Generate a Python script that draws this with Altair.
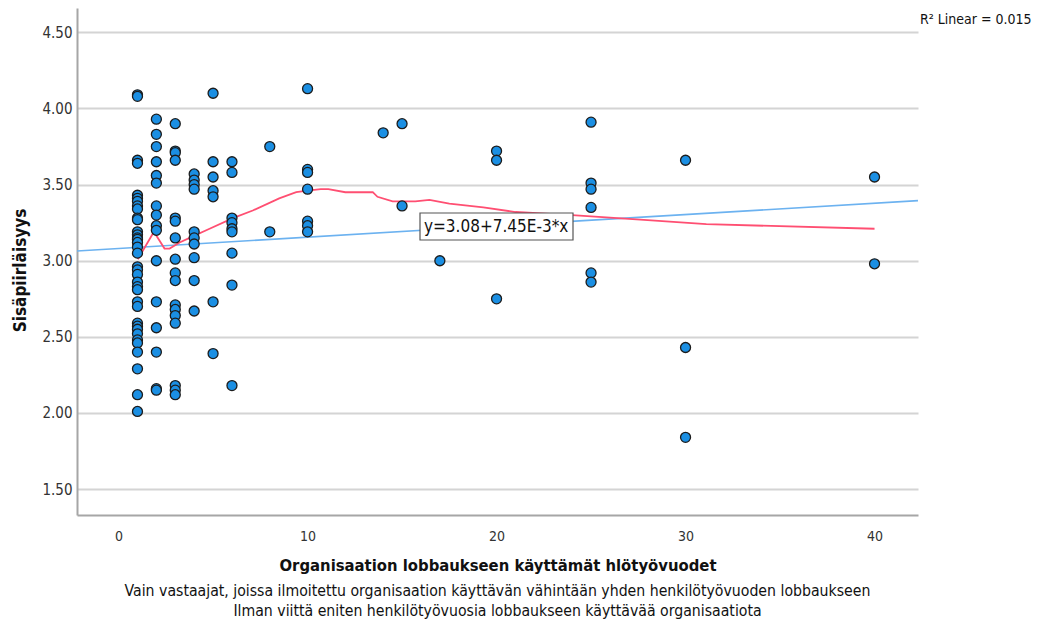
import altair as alt
import pandas as pd

# ---- data ----
years = [1, 2, 3, 4, 5, 6, 8, 10, 14, 15, 17, 20, 25, 30, 40]
scores = [
    [4.09, 4.08, 3.66, 3.64, 3.43, 3.41, 3.39, 3.36, 3.34, 3.28, 3.27, 3.19, 3.17, 3.15,
     3.14, 3.12, 3.09, 3.05, 2.96, 2.94, 2.91, 2.86, 2.83, 2.81, 2.73, 2.70, 2.59, 2.57,
     2.55, 2.52, 2.48, 2.46, 2.40, 2.29, 2.12, 2.01],
    [3.93, 3.83, 3.75, 3.65, 3.56, 3.51, 3.36, 3.30, 3.23, 3.20, 3.00, 2.73, 2.56, 2.40, 2.16, 2.15],
    [3.90, 3.72, 3.71, 3.66, 3.28, 3.26, 3.15, 3.01, 2.92, 2.87, 2.71, 2.68, 2.64, 2.59, 2.18, 2.15, 2.12],
    [3.57, 3.53, 3.50, 3.47, 3.19, 3.15, 3.11, 3.02, 2.87, 2.67],
    [4.10, 3.65, 3.55, 3.46, 3.42, 2.73, 2.39],
    [3.65, 3.58, 3.28, 3.25, 3.21, 3.19, 3.05, 2.84, 2.18],
    [3.75, 3.19],
    [4.13, 3.60, 3.58, 3.47, 3.26, 3.23, 3.19],
    [3.84],
    [3.90, 3.36],
    [3.00],
    [3.72, 3.66, 2.75],
    [3.91, 3.51, 3.47, 3.35, 2.92, 2.86],
    [3.66, 2.43, 1.84],
    [3.55, 2.98],
]

loess_x = [1.02, 1.87, 2.43, 2.7, 3.23, 3.93, 4.64, 6.05, 7.1, 8.5, 9.4, 10.0, 10.7, 11.1,
           12.0, 13.45, 13.7, 14.5, 15.7, 16.45, 17.5, 19.3, 21.0, 24.0, 27.6, 31.1, 40.0]
loess_y = [3.01, 3.19, 3.08, 3.08, 3.12, 3.16, 3.20, 3.28, 3.33, 3.41, 3.45, 3.46, 3.47, 3.47,
           3.45, 3.45, 3.42, 3.39, 3.39, 3.40, 3.375, 3.35, 3.32, 3.30, 3.27, 3.24, 3.21]

fit_x = [-2.2, 42.3]
fit_y = [3.064, 3.395]

x_ticks = [0, 10, 20, 30, 40]
y_ticks = [1.5, 2.0, 2.5, 3.0, 3.5, 4.0, 4.5]

x_title = "Organisaation lobbaukseen käyttämät hlötyövuodet"
y_title = "Sisäpiirläisyys"
note_1 = "Vain vastaajat, joissa ilmoitettu organisaation käyttävän vähintään yhden henkilötyövuoden lobbaukseen"
note_2 = "Ilman viittä eniten henkilötyövuosia lobbaukseen käyttävää organisaatiota"
r2_text = "R² Linear = 0.015"
eq_text = "y=3.08+7.45E-3*x"

FONT = "Liberation Sans Narrow, DejaVu Sans Condensed, Arial Narrow, sans-serif"

pts = pd.DataFrame(
    [{"x": yr, "y": v} for yr, vals in zip(years, scores) for v in vals]
)
loess = pd.DataFrame({"x": loess_x, "y": loess_y})
fit = pd.DataFrame({"x": fit_x, "y": fit_y})
one = pd.DataFrame({"a": [0]})

W, H = 841, 507

xs = alt.Scale(domain=[-2.2, 42.3], nice=False, zero=False)
ys = alt.Scale(domain=[1.33, 4.66], nice=False, zero=False)

x_axis = alt.Axis(
    values=x_ticks, format="d", grid=False, ticks=False, domainColor="#a6a6a6",
    domainWidth=2, labelFont=FONT, labelFontSize=14, labelColor="#333333",
    labelPadding=14, title=x_title, titleFont=FONT, titleFontSize=16.5,
    titleFontWeight="bold", titleColor="#111111", titleX=W / 2, titleY=50,
    titleBaseline="middle", titleAlign="center",
)
y_axis = alt.Axis(
    values=y_ticks, format=".2f", grid=True, gridColor="#d4d4d4", gridWidth=2,
    ticks=False, domainColor="#a6a6a6", domainWidth=2, labelFont=FONT,
    labelFontSize=15, labelColor="#333333", labelPadding=5, title=y_title,
    titleFont=FONT, titleFontSize=17, titleFontWeight="bold", titleColor="#111111",
    titleX=-57, titleY=262, titleBaseline="middle", titleAlign="center", titleAngle=-90,
)

fit_line = alt.Chart(fit).mark_line(color="#6cb2f0", strokeWidth=1.6).encode(
    x=alt.X("x:Q", scale=xs, axis=x_axis),
    y=alt.Y("y:Q", scale=ys, axis=y_axis),
)
loess_line = alt.Chart(loess).mark_line(color="#ff4f72", strokeWidth=1.8).encode(
    x=alt.X("x:Q", scale=xs), y=alt.Y("y:Q", scale=ys)
)
points = alt.Chart(pts).mark_point(
    shape="circle", filled=True, fill="#1b8fe3", stroke="#1c1c1c", strokeWidth=1.3,
    size=100, opacity=1,
).encode(x=alt.X("x:Q", scale=xs), y=alt.Y("y:Q", scale=ys))

eq_box = alt.Chart(one).mark_rect(fill="white", stroke="#555555", strokeWidth=1.2).encode(
    x=alt.value(343), x2=alt.value(496), y=alt.value(205), y2=alt.value(232)
)
eq_label = alt.Chart(one).mark_text(
    text=eq_text, font=FONT, fontSize=17, align="left", baseline="middle", color="#111111"
).encode(x=alt.value(347), y=alt.value(219))

r2_label = alt.Chart(one).mark_text(
    text=r2_text, font=FONT, fontSize=14, align="left", baseline="middle", color="#111111"
).encode(x=alt.value(843), y=alt.value(12))

n1 = alt.Chart(one).mark_text(
    text=note_1, font=FONT, fontSize=15.7, align="center", baseline="middle", color="#111111"
).encode(x=alt.value(W / 2), y=alt.value(583))
n2 = alt.Chart(one).mark_text(
    text=note_2, font=FONT, fontSize=15.7, align="center", baseline="middle", color="#111111"
).encode(x=alt.value(W / 2), y=alt.value(603))

chart = (
    alt.layer(fit_line, loess_line, points, eq_box, eq_label, r2_label, n1, n2)
    .properties(
        width=W, height=H,
        autosize=alt.AutoSizeParams(type="none"),
        padding={"left": 69, "top": 0, "right": 116, "bottom": 104},
    )
    .configure(background="white", view=alt.ViewConfig(stroke="transparent"))
)

chart.save("out.html", embed_options={"renderer": "svg", "actions": False})
